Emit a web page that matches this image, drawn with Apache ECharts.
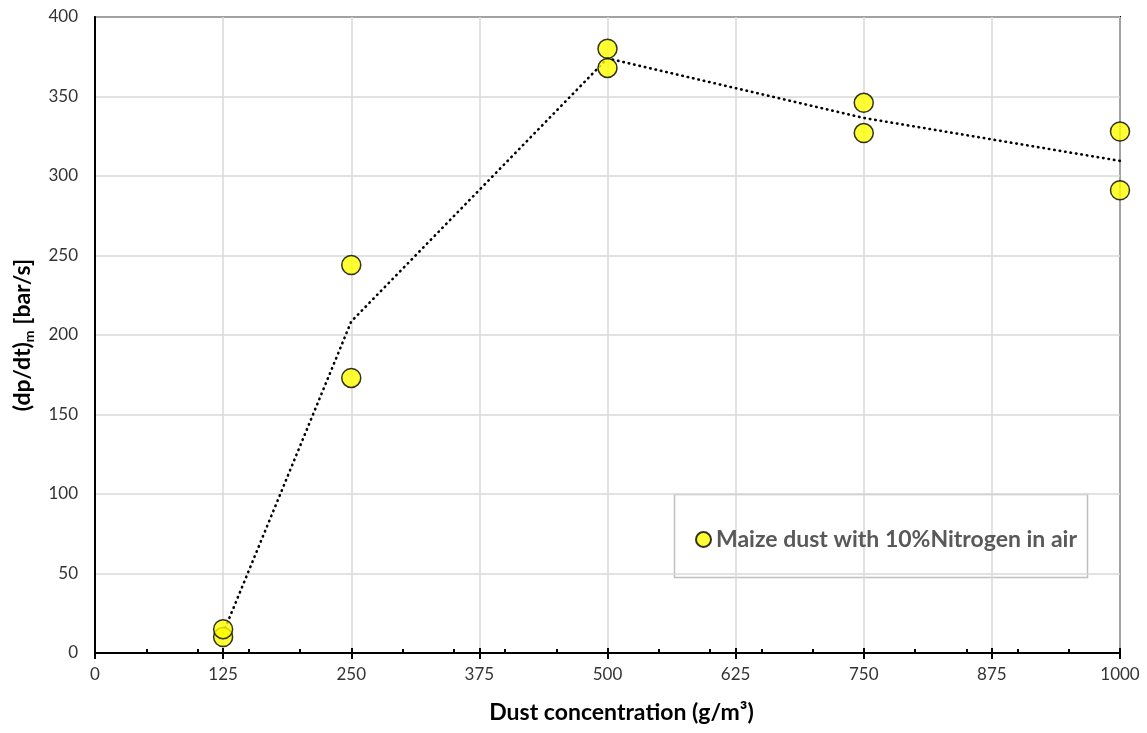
<!DOCTYPE html>
<html>
<head>
<meta charset="utf-8">
<script src="https://cdn.jsdelivr.net/npm/echarts@6/dist/echarts.min.js"></script>
<style>
  html, body { margin: 0; padding: 0; background: #fff; }
  #chart { width: 1147px; height: 733px; }
</style>
</head>
<body>
<div id="chart"></div>
<script>
// Maximum rate of pressure rise vs. dust concentration
const seriesName = 'Maize dust with 10%Nitrogen in air';
const concentration = [125, 125, 250, 250, 500, 500, 750, 750, 1000, 1000];
const rateMax = [10, 15, 244, 173, 380, 368, 346, 327, 328, 291];
// dotted trend through the mean value at each concentration
const trendX = [125, 250, 500, 750, 1000];
const trendY = [12.5, 208.5, 374, 336.5, 309.5];
const xTicks = [0, 125, 250, 375, 500, 625, 750, 875, 1000];
const yTicks = [0, 50, 100, 150, 200, 250, 300, 350, 400];

const FONT = 'Lato, "Open Sans", sans-serif';
const points = concentration.map((x, i) => [x, rateMax[i]]);
const trend = trendX.map((x, i) => [x, trendY[i]]);

const grid = { left: 95, right: 27, top: 17, bottom: 80 };

const chart = echarts.init(document.getElementById('chart'), null, { renderer: 'canvas' });
chart.setOption({
  backgroundColor: '#ffffff',
  animation: false,
  grid: Object.assign({ show: true, borderColor: '#000', borderWidth: 2, backgroundColor: 'transparent' }, grid),
  xAxis: [
    {
      type: 'value',
      min: xTicks[0], max: xTicks[xTicks.length - 1], interval: xTicks[1] - xTicks[0],
      name: 'Dust concentration (g/m³)',
      nameLocation: 'middle', nameGap: 48,
      nameTextStyle: { fontFamily: FONT, fontSize: 23, fontWeight: 'bold', color: '#000', padding: [0, 0, 0, 28] },
      axisLine: { show: true, onZero: false, lineStyle: { color: '#000', width: 2 } },
      axisTick: { show: true, inside: false, length: 6, lineStyle: { color: '#000', width: 2 } },
      axisLabel: { fontFamily: FONT, fontSize: 17, color: '#333', margin: 13, formatter: v => String(v) },
      splitLine: { show: true, lineStyle: { color: '#d9d9d9', width: 1.5 } }
    },
    {
      // minor ticks on the inside of the axis
      type: 'value', position: 'bottom',
      min: 0, max: 1000, interval: 50,
      axisLine: { show: false },
      axisTick: { show: true, inside: true, length: 4, lineStyle: { color: '#000', width: 2 } },
      axisLabel: { show: false },
      splitLine: { show: false }
    },
    {
      // major ticks crossing above the axis line
      type: 'value', position: 'bottom',
      min: 0, max: 1000, interval: 125,
      axisLine: { show: false },
      axisTick: { show: true, inside: true, length: 5, lineStyle: { color: '#000', width: 2 } },
      axisLabel: { show: false },
      splitLine: { show: false }
    }
  ],
  yAxis: {
    type: 'value',
    min: yTicks[0], max: yTicks[yTicks.length - 1], interval: yTicks[1] - yTicks[0],
    name: '{t|(dp/dt)}{s|m}{t| [bar/s]}',
    nameLocation: 'middle', nameGap: 58, nameRotate: 90,
    nameTextStyle: {
      rich: {
        t: { fontFamily: FONT, fontSize: 23, fontWeight: 'bold', color: '#000', lineHeight: 28 },
        s: { fontFamily: FONT, fontSize: 14, fontWeight: 'bold', color: '#000', lineHeight: 28, padding: [12, 0, 0, 0] }
      }
    },
    axisLine: { show: true, onZero: false, lineStyle: { color: '#000', width: 2 } },
    axisTick: { show: false },
    axisLabel: { fontFamily: FONT, fontSize: 17, color: '#333', margin: 17 },
    splitLine: { show: true, lineStyle: { color: '#d9d9d9', width: 1.5 } }
  },
  legend: {
    data: [seriesName],
    left: 690, top: 523,
    itemWidth: 15, itemHeight: 15, itemGap: 5,
    icon: 'circle',
    textStyle: { fontFamily: FONT, fontSize: 23, fontWeight: 'bold', color: '#595959' },
    selectedMode: false
  },
  graphic: [{
    type: 'rect', z: 0, silent: true,
    shape: { x: 674.5, y: 494.5, width: 413, height: 83 },
    style: { fill: '#fff', stroke: '#bfbfbf', lineWidth: 1.5 }
  }],
  series: [
    {
      name: 'trend', type: 'line', data: trend,
      symbol: 'none', silent: true, z: 2,
      lineStyle: { color: '#000', width: 2.6, type: [0.5, 5], cap: 'round' }
    },
    {
      name: seriesName, type: 'scatter', data: points,
      symbol: 'circle', symbolSize: 19, z: 3,
      itemStyle: { color: '#ffff00', borderColor: '#000', borderWidth: 1.5 }
    }
  ]
});
</script>
</body>
</html>
